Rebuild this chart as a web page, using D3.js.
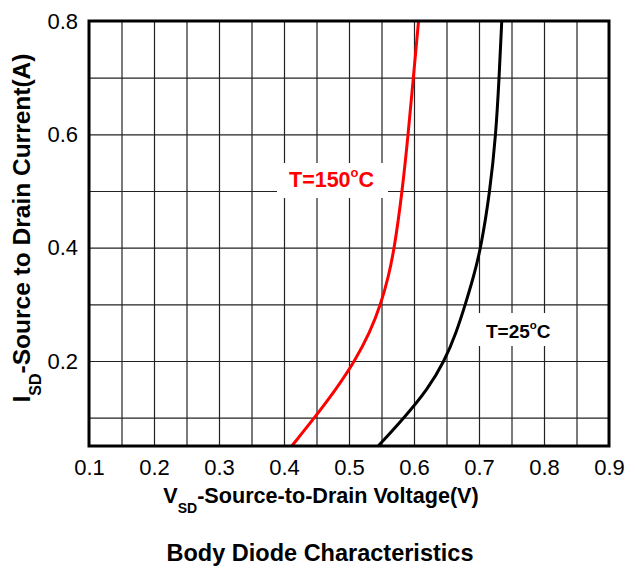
<!DOCTYPE html>
<html>
<head>
<meta charset="utf-8">
<script src="https://cdn.jsdelivr.net/npm/d3@7/dist/d3.min.js"></script>
<style>
  body { margin: 0; background: #fff; }
  svg { font-family: Arial, "Liberation Sans", sans-serif; }
</style>
</head>
<body>
<svg id="chart" width="635" height="572"></svg>
<script>
// source-to-drain current (A)
const currentA = [0.05, 0.1, 0.15, 0.2, 0.25, 0.3, 0.35, 0.4, 0.5, 0.6, 0.7, 0.8];
// forward voltage (V) at each current
const vsd150 = [0.412, 0.447, 0.48, 0.509, 0.532, 0.549, 0.561, 0.57, 0.582, 0.591, 0.599, 0.607];
const vsd25 = [0.545, 0.585, 0.621, 0.647, 0.665, 0.679, 0.692, 0.703, 0.717, 0.726, 0.731, 0.735];
const xTicks = [0.1, 0.2, 0.3, 0.4, 0.5, 0.6, 0.7, 0.8, 0.9];
const yTicks = [0.2, 0.4, 0.6, 0.8];

const marginLeft = 89;
const marginTop = 21;
const plotW = 520;
const plotH = 425;

const svg = d3.select("#chart");

const xScale = d3.scaleLinear().domain([0.1, 0.9]).range([0, plotW]);
const yScale = d3.scaleLinear().domain([0.05, 0.8]).range([plotH, 0]);

const plot = svg.append("g").attr("transform", `translate(${marginLeft}, ${marginTop})`);

// grid
const xGrid = d3.axisBottom(xScale)
  .tickValues(d3.range(0.15, 0.9, 0.05))
  .tickSize(-plotH)
  .tickFormat("");
const yGrid = d3.axisLeft(yScale)
  .tickValues(d3.range(0.1, 0.8, 0.1))
  .tickSize(-plotW)
  .tickFormat("");
plot.append("g").attr("class", "x-grid")
  .attr("transform", `translate(0, ${plotH})`)
  .call(xGrid);
plot.append("g").attr("class", "y-grid").call(yGrid);
plot.selectAll(".x-grid line, .y-grid line")
  .attr("stroke", "#222")
  .attr("stroke-width", 1.2);
plot.selectAll(".x-grid .domain, .y-grid .domain").remove();

// label with a white box behind it
const makeLabel = (x, y, main, color, size, box) => {
  plot.append("rect")
    .attr("x", box[0]).attr("y", box[1])
    .attr("width", box[2]).attr("height", box[3])
    .attr("fill", "#fff");
  const t = plot.append("text")
    .attr("x", x).attr("y", y)
    .attr("fill", color)
    .attr("font-weight", "bold")
    .attr("font-size", size + "px");
  t.append("tspan").text(main);
  t.append("tspan").attr("dy", -size * 0.45).attr("font-size", size * 0.6 + "px").text("o");
  t.append("tspan").attr("dy", size * 0.45).text("C");
};

// curves
const lineFunc = d3.line()
  .x((d) => xScale(d.v))
  .y((d) => yScale(d.i))
  .curve(d3.curveBasis);
const makePath = (color, volts) => {
  plot.append("path")
    .datum(currentA.map((c, k) => ({ i: c, v: volts[k] })))
    .attr("fill", "none")
    .attr("stroke", color)
    .attr("stroke-width", 3)
    .attr("d", lineFunc);
};
makePath("#ff0000", vsd150);
makePath("#000", vsd25);

makeLabel(200, 166, "T=150", "#ff0000", 21.5, [188, 142, 111, 35]);
makeLabel(397, 317, "T=25", "#000", 19, [383, 292, 92, 33]);

// frame
plot.append("rect")
  .attr("width", plotW).attr("height", plotH)
  .attr("fill", "none")
  .attr("stroke", "#000")
  .attr("stroke-width", 3);

// tick labels
const xAxis = d3.axisBottom(xScale).tickValues(xTicks).tickSize(0).tickPadding(13).tickFormat(d3.format(".1f"));
const yAxis = d3.axisLeft(yScale).tickValues(yTicks).tickSize(0).tickPadding(11).tickFormat(d3.format(".1f"));
plot.append("g").attr("class", "x-axis").attr("transform", `translate(0, ${plotH})`).call(xAxis);
plot.append("g").attr("class", "y-axis").call(yAxis);
plot.selectAll(".x-axis .domain, .y-axis .domain").remove();
plot.selectAll(".x-axis text, .y-axis text")
  .attr("font-size", "22px")
  .attr("font-family", "Arial, 'Liberation Sans', sans-serif")
  .attr("fill", "#000");

// axis titles
const xt = svg.append("text")
  .attr("x", 321).attr("y", 503)
  .attr("text-anchor", "middle")
  .attr("font-weight", "bold")
  .attr("font-size", "21.6px");
xt.append("tspan").text("V");
xt.append("tspan").attr("dy", 10).attr("font-size", "14px").text("SD");
xt.append("tspan").attr("dy", -10).text("-Source-to-Drain Voltage(V)");

const yt = svg.append("text")
  .attr("transform", "translate(30, 228) rotate(-90)")
  .attr("text-anchor", "middle")
  .attr("font-weight", "bold")
  .attr("font-size", "24.5px");
yt.append("tspan").text("I");
yt.append("tspan").attr("dy", 11).attr("font-size", "16px").text("SD");
yt.append("tspan").attr("dy", -11).text("-Source to Drain Current(A)");

svg.append("text")
  .attr("x", 320).attr("y", 561)
  .attr("text-anchor", "middle")
  .attr("font-weight", "bold")
  .attr("font-size", "23.5px")
  .text("Body Diode Characteristics");
</script>
</body>
</html>
